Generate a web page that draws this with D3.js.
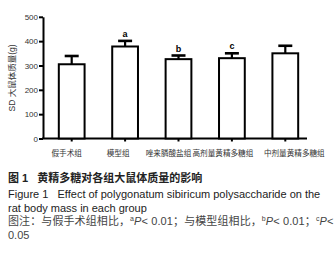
<!DOCTYPE html>
<html>
<head>
<meta charset="utf-8">
<script src="https://d3js.org/d3.v7.min.js"></script>
<style>
  body { margin: 0; background: #fff; font-family: Arial, "Liberation Sans", sans-serif; }
  .cap { font-family: Arial, "Liberation Sans", "Noto Sans CJK SC", sans-serif; }
</style>
</head>
<body>
<svg id="chart" width="335" height="258"></svg>
<script>
// data
const groups = ["假手术组", "模型组", "唑来膦酸盐组", "高剂量黄精多糖组", "中剂量黄精多糖组"];
const means = [305, 378, 326, 330, 350];
const upper = [339, 401, 341, 350, 381];
const marks = ["", "a", "b", "c", ""];
const yTicks = [0, 100, 200, 300, 400, 500];

const svg = d3.select("#chart");
const cjk = "Arial, 'Noto Sans CJK SC', sans-serif";

const x = d3.scaleBand()
    .domain(groups)
    .range([45, 312])
    .paddingInner(0.48)
    .paddingOuter(0.24);
const y = d3.scaleLinear()
    .domain([0, 500])
    .range([138.5, 16.8]);

// y axis
const yAxis = svg.append("g")
    .attr("transform", "translate(43,0)")
    .call(d3.axisLeft(y).tickValues(yTicks).tickSize(4).tickSizeOuter(0).tickPadding(1));
yAxis.select(".domain").attr("stroke-width", 2);
yAxis.selectAll(".tick line").attr("stroke-width", 2);
yAxis.selectAll(".tick text").style("font-size", "8px").attr("fill", "#333");

// x axis
const xAxis = svg.append("g")
    .attr("transform", `translate(0,${y(0)})`)
    .call(d3.axisBottom(x).tickSize(3).tickSizeOuter(0).tickPadding(9));
xAxis.select(".domain").remove();
svg.append("line")
    .attr("x1", 42).attr("x2", 307)
    .attr("y1", y(0)).attr("y2", y(0))
    .attr("stroke", "#000").attr("stroke-width", 2);
xAxis.selectAll(".tick line").attr("stroke-width", 2);
// labels sit a little off their ticks in the original so they do not collide
const shift = [-5, -7, -10, -9, 9];
xAxis.selectAll(".tick text")
    .style("font-size", "7.6px")
    .style("font-family", cjk)
    .attr("fill", "#333")
    .attr("dx", (d, i) => shift[i]);

// error bars
svg.selectAll(".err")
    .data(groups)
    .enter().append("line")
    .attr("x1", d => x(d) + x.bandwidth() / 2)
    .attr("x2", d => x(d) + x.bandwidth() / 2)
    .attr("y1", (d, i) => y(means[i]))
    .attr("y2", (d, i) => y(upper[i]))
    .attr("stroke", "#000").attr("stroke-width", 2.2);
svg.selectAll(".cap-line")
    .data(groups)
    .enter().append("line")
    .attr("x1", d => x(d) + x.bandwidth() / 2 - 7)
    .attr("x2", d => x(d) + x.bandwidth() / 2 + 7)
    .attr("y1", (d, i) => y(upper[i]))
    .attr("y2", (d, i) => y(upper[i]))
    .attr("stroke", "#000").attr("stroke-width", 2.6);

// bars
svg.selectAll(".bar")
    .data(groups)
    .enter().append("rect")
    .attr("x", d => x(d) + 1)
    .attr("y", (d, i) => y(means[i]))
    .attr("width", x.bandwidth() - 2)
    .attr("height", (d, i) => y(0) - y(means[i]))
    .attr("fill", "#fff")
    .attr("stroke", "#000")
    .attr("stroke-width", 2);

// significance letters
svg.selectAll(".mark")
    .data(groups)
    .enter().append("text")
    .attr("x", d => x(d) + x.bandwidth() / 2)
    .attr("y", (d, i) => y(upper[i]) - 4)
    .attr("text-anchor", "middle")
    .style("font-size", "9px")
    .style("font-weight", "bold")
    .text((d, i) => marks[i]);

// y label
svg.append("text")
    .attr("transform", "translate(15,78) rotate(-90)")
    .attr("text-anchor", "middle")
    .style("font-size", "8.5px")
    .style("font-family", cjk)
    .attr("fill", "#333")
    .text("SD 大鼠体质量(g)");

// caption
const cap = svg.append("g").attr("class", "cap");
cap.append("text").attr("x", 8).attr("y", 182)
    .style("font-size", "11px").style("font-weight", "bold").attr("fill", "#222")
    .attr("xml:space", "preserve")
    .text("图 1   黄精多糖对各组大鼠体质量的影响");
cap.append("text").attr("x", 8).attr("y", 198)
    .style("font-size", "11px").attr("fill", "#222")
    .attr("xml:space", "preserve")
    .text("Figure 1   Effect of polygonatum sibiricum polysaccharide on the");
cap.append("text").attr("x", 8).attr("y", 212)
    .style("font-size", "11px").attr("fill", "#222")
    .text("rat body mass in each group");
const note = cap.append("text").attr("x", 8).attr("y", 225)
    .style("font-size", "11px").style("letter-spacing", "0.1px").attr("fill", "#444");
note.append("tspan").text("图注：与假手术组相比，");
note.append("tspan").attr("dy", -4).style("font-size", "7px").text("a");
note.append("tspan").attr("dy", 4).style("font-style", "italic").text("P");
note.append("tspan").text("< 0.01；与模型组相比，");
note.append("tspan").attr("dy", -4).style("font-size", "7px").text("b");
note.append("tspan").attr("dy", 4).style("font-style", "italic").text("P");
note.append("tspan").text("< 0.01；");
note.append("tspan").attr("dy", -4).style("font-size", "7px").text("c");
note.append("tspan").attr("dy", 4).style("font-style", "italic").text("P");
note.append("tspan").text("<");
cap.append("text").attr("x", 8).attr("y", 239)
    .style("font-size", "11px").attr("fill", "#444")
    .text("0.05");
</script>
</body>
</html>
